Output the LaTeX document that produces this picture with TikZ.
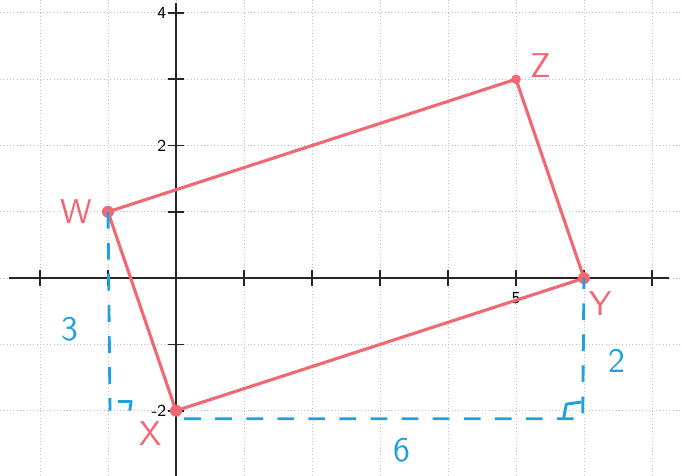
\documentclass[tikz,border=0pt]{standalone}
\usetikzlibrary{positioning, calc}
\definecolor{redpen}{RGB}{240,104,116}
\definecolor{bluepen}{RGB}{32,160,222}
\begin{document}
\begin{tikzpicture}[
        x=1cm, y=0.975cm,
        font=\sffamily,
        gridline/.style={gray!50, densely dotted, line width=0.4pt},
        axis/.style={black!85, line width=0.7pt},
        side/.style={draw=redpen, line width=1.3pt, line cap=round},
        vertex/.style={circle, fill=redpen, inner sep=0pt, minimum size=5pt},
        guide/.style={draw=bluepen, line width=1.2pt, dash pattern=on 7pt off 6pt},
        rightang/.style={draw=bluepen, line width=1.2pt, line join=round},
        pen/.style={text=redpen, font=\sffamily\Large},
        len/.style={text=bluepen, font=\sffamily\Large},
        ticklbl/.style={font=\sffamily\scriptsize, inner sep=1pt}
    ]
    \useasboundingbox (-2.588,-2.977) rectangle (7.456,4.195);
    \foreach \gx in {-2,...,7} \draw [gridline] (\gx,-2.977) -- (\gx,4.195);
    \foreach \gy in {-2,...,4} \draw [gridline] (-2.588,\gy) -- (7.456,\gy);

    \draw [axis] (-2.45,0) -- (7.25,0);
    \draw [axis] (0,4.15) -- (0,-2.977);
    \foreach \tx in {-2,-1,1,2,3,4,5,6,7} \draw [axis] (\tx,-0.12) -- (\tx,0.12);
    \foreach \ty in {-2,-1,1,2,3,4} \draw [axis] (-0.12,\ty) -- (0.12,\ty);
    \node (t4) [ticklbl, left] at (-0.1,4) {4};
    \node (t2) [ticklbl, left] at (-0.1,2) {2};
    \node (tm2) [ticklbl, left] at (-0.1,-2) {-2};
    \node (t5) [ticklbl, below] at (5,-0.17) {5};

    \node (W) [vertex] at (-1,1) {};
    \node (Z) [vertex, minimum size=4pt] at (5,3) {};
    \node (Y) [vertex] at (6,0) {};
    \node (X) [vertex] at (0,-2) {};
    \draw [side] (W.center) -- (Z.center) -- (Y.center) -- (X.center) -- cycle;

    \coordinate (wfoot) at (-0.97,-2.0);
    \coordinate (xfoot) at (0.12,-2.12);
    \coordinate (yfoot) at (5.98,-2.12);
    \draw [guide] (W.center) -- (wfoot);
    \draw [guide] (xfoot) -- (yfoot) -- (Y.center);
    \draw [rightang] ($(wfoot)+(0.12,0.14)$) -- ++(0.19,0) -- ++(-0.02,-0.14);
    \draw [rightang] ($(yfoot)+(-0.28,0)$) -- ++(0.04,0.22) -- ++(0.22,0.03);

    \node (lblW) [pen] at (-1.46,1.0) {W};
    \node (lblZ) [pen] at (5.37,3.21) {Z};
    \node (lblY) [pen] at (6.24,-0.38) {Y};
    \node (lblX) [pen] at (-0.38,-2.35) {X};
    \node (len3) [len] at (-1.56,-0.77) {3};
    \node (len2) [len] at (6.49,-1.25) {2};
    \node (len6) [len] at (3.32,-2.6) {6};
\end{tikzpicture}
\end{document}
